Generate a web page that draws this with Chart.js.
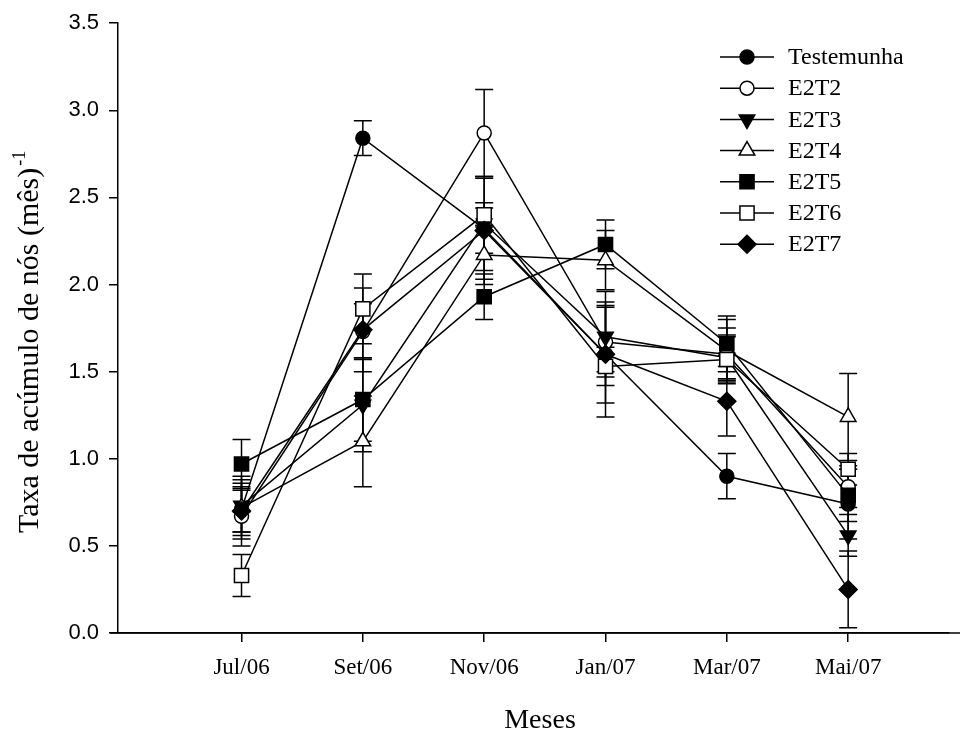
<!DOCTYPE html>
<html>
<head>
<meta charset="utf-8">
<script src="https://cdn.jsdelivr.net/npm/chart.js@4.4.1/dist/chart.umd.min.js"></script>
<style>
  html, body { margin: 0; padding: 0; background: #ffffff; overflow: hidden; }
  canvas { display: block; }
</style>
</head>
<body>
<canvas id="chart" width="960" height="736"></canvas>
<script>
// Months on the x axis
const months = ['Jul/06', 'Set/06', 'Nov/06', 'Jan/07', 'Mar/07', 'Mai/07'];
const yTicks = [0, 0.5, 1.0, 1.5, 2.0, 2.5, 3.0, 3.5];

// Series values
const testemunha = [0.71, 2.84, 2.32, 1.60, 0.90, 0.74];
const e2t2 = [0.67, 1.73, 2.87, 1.67, 1.60, 0.84];
const e2t3 = [0.73, 1.31, 2.35, 1.70, 1.58, 0.56];
const e2t4 = [0.72, 1.10, 2.17, 2.14, 1.62, 1.24];
const e2t5 = [0.97, 1.34, 1.93, 2.23, 1.66, 0.79];
const e2t6 = [0.33, 1.86, 2.40, 1.53, 1.57, 0.94];
const e2t7 = [0.70, 1.74, 2.31, 1.60, 1.33, 0.25];

// Error bar half-lengths
const testemunhaErr = [0.15, 0.10, 0.29, 0.28, 0.13, 0.20];
const e2t2Err = [0.17, 0.16, 0.25, 0.20, 0.15, 0.12];
const e2t3Err = [0.15, 0.27, 0.27, 0.20, 0.12, 0.12];
const e2t4Err = [0.18, 0.26, 0.17, 0.17, 0.18, 0.25];
const e2t5Err = [0.14, 0.24, 0.13, 0.14, 0.16, 0.15];
const e2t6Err = [0.12, 0.20, 0.07, 0.11, 0.14, 0.09];
const e2t7Err = [0.12, 0.24, 0.13, 0.36, 0.20, 0.22];

const serif = '"Liberation Serif", "Times New Roman", serif';
const sans = '"Liberation Sans", Arial, sans-serif';

// name, values, errors, point style, filled, rotation, radius
const seriesDefs = [
  ['Testemunha', testemunha, testemunhaErr, 'circle', true, 0, 7],
  ['E2T2', e2t2, e2t2Err, 'circle', false, 0, 7],
  ['E2T3', e2t3, e2t3Err, 'triangle', true, 180, 9],
  ['E2T4', e2t4, e2t4Err, 'triangle', false, 0, 9],
  ['E2T5', e2t5, e2t5Err, 'rect', true, 0, 10],
  ['E2T6', e2t6, e2t6Err, 'rect', false, 0, 10],
  ['E2T7', e2t7, e2t7Err, 'rectRot', true, 0, 9]
];

const datasets = seriesDefs.map((s, k) => ({
  label: s[0],
  data: s[1].map((v, i) => ({ x: i, y: v })),
  errors: s[2],
  pointStyle: s[3],
  rotation: s[5],
  pointRadius: s[6],
  pointHoverRadius: s[6],
  pointBackgroundColor: s[4] ? '#000000' : '#ffffff',
  pointBorderColor: '#000000',
  pointBorderWidth: 1.5,
  borderColor: '#000000',
  borderWidth: 1.5,
  tension: 0,
  fill: false,
  order: -k // later series on top
}));

// Error bars under the series
const errorBars = {
  id: 'errorBars',
  beforeDatasetsDraw(chart) {
    const { ctx, scales: { x, y } } = chart;
    ctx.save();
    ctx.strokeStyle = '#000000';
    ctx.lineWidth = 1.5;
    chart.data.datasets.forEach(ds => {
      ds.data.forEach((p, i) => {
        const e = ds.errors[i];
        const px = x.getPixelForValue(p.x);
        const top = y.getPixelForValue(p.y + e);
        const bot = y.getPixelForValue(p.y - e);
        ctx.beginPath();
        ctx.moveTo(px, top); ctx.lineTo(px, bot);
        ctx.moveTo(px - 9, top); ctx.lineTo(px + 9, top);
        ctx.moveTo(px - 9, bot); ctx.lineTo(px + 9, bot);
        ctx.stroke();
      });
    });
    ctx.restore();
  }
};

function drawMarker(ctx, style, filled, rotation, r, x, y) {
  ctx.beginPath();
  if (style === 'circle') {
    ctx.arc(x, y, r, 0, Math.PI * 2);
  } else if (style === 'triangle') {
    const d = rotation === 180 ? -1 : 1;
    ctx.moveTo(x, y - d * r);
    ctx.lineTo(x + r * 0.866, y + d * r / 2);
    ctx.lineTo(x - r * 0.866, y + d * r / 2);
    ctx.closePath();
  } else if (style === 'rect') {
    const h = r * Math.SQRT1_2;
    ctx.rect(x - h, y - h, 2 * h, 2 * h);
  } else if (style === 'rectRot') {
    ctx.moveTo(x, y - r); ctx.lineTo(x + r, y);
    ctx.lineTo(x, y + r); ctx.lineTo(x - r, y);
    ctx.closePath();
  }
  ctx.fillStyle = filled ? '#000000' : '#ffffff';
  ctx.fill();
  ctx.stroke();
}

// Legend, axis titles and the small x-axis overhang
const decorations = {
  id: 'decorations',
  afterDraw(chart) {
    const { ctx, chartArea } = chart;
    ctx.save();
    ctx.strokeStyle = '#000000';
    ctx.lineWidth = 1.5;

    // x axis line sticks out left of the y axis and runs to the edge
    ctx.beginPath();
    ctx.moveTo(chartArea.left - 8, chartArea.bottom);
    ctx.lineTo(chart.width, chartArea.bottom);
    ctx.stroke();

    // legend
    seriesDefs.forEach((s, k) => {
      const ly = 57 + k * 31.2;
      ctx.beginPath();
      ctx.moveTo(720, ly); ctx.lineTo(774, ly);
      ctx.stroke();
      drawMarker(ctx, s[3], s[4], s[5], s[6], 747, ly);
      ctx.fillStyle = '#000000';
      ctx.font = '24px ' + serif;
      ctx.textAlign = 'left';
      ctx.textBaseline = 'middle';
      ctx.fillText(s[0], 788, ly + 1);
    });

    // x title
    ctx.fillStyle = '#000000';
    ctx.font = '28px ' + serif;
    ctx.textAlign = 'center';
    ctx.textBaseline = 'alphabetic';
    ctx.fillText('Meses', 540, 728);

    // y title with superscript
    const main = 'Taxa de acúmulo de nós (mês)';
    ctx.translate(38, 533);
    ctx.rotate(-Math.PI / 2);
    ctx.textAlign = 'left';
    ctx.font = '30px ' + serif;
    ctx.fillText(main, 0, 0);
    const w = ctx.measureText(main).width;
    ctx.font = '18px ' + serif;
    ctx.fillText('-1', w + 2, -13);
    ctx.restore();
  }
};

new Chart(document.getElementById('chart'), {
  type: 'line',
  data: { datasets: datasets },
  options: {
    responsive: false,
    animation: false,
    devicePixelRatio: 1,
    layout: { padding: { top: 22, right: 0, left: 0, bottom: 0 } },
    plugins: {
      legend: { display: false },
      tooltip: { enabled: false }
    },
    scales: {
      x: {
        type: 'linear',
        min: -1.018,
        max: 5.827,
        afterBuildTicks: (s) => { s.ticks = months.map((m, i) => ({ value: i })); },
        afterFit: (s) => { s.height = 103; },
        ticks: {
          autoSkip: false,
          maxRotation: 0,
          padding: 12,
          color: '#000000',
          font: { family: serif, size: 23 },
          callback: (v) => months[v]
        },
        grid: { drawOnChartArea: false, drawTicks: true, tickLength: 9, color: '#000000', lineWidth: 1.5 },
        border: { display: true, color: '#000000', width: 1.5 }
      },
      y: {
        min: 0,
        max: 3.5,
        afterBuildTicks: (s) => { s.ticks = yTicks.map(v => ({ value: v })); },
        afterFit: (s) => { s.width = 118; },
        ticks: {
          padding: 10,
          color: '#000000',
          font: { family: sans, size: 22 },
          callback: (v) => v.toFixed(1)
        },
        grid: { drawOnChartArea: false, drawTicks: true, tickLength: 9, color: '#000000', lineWidth: 1.5 },
        border: { display: true, color: '#000000', width: 1.5 }
      }
    }
  },
  plugins: [errorBars, decorations]
});
</script>
</body>
</html>
